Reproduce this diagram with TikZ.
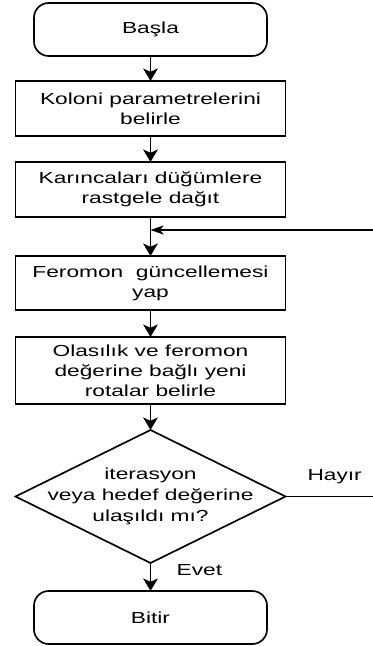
\documentclass[tikz,border=0pt]{standalone}
\usepackage{fontspec}
\setmainfont{Liberation Sans}[FakeStretch=1.42]
\usepackage{tikz}
\usetikzlibrary{arrows.meta, positioning, shapes.geometric}

\begin{document}
\begin{tikzpicture}[
    x=0.75pt, y=-0.75pt,
    base/.style={draw=black, line width=1.25pt, fill=white, align=center, outer sep=0pt,
                 font=\fontsize{12pt}{15pt}\selectfont},
    term/.style={base, rounded corners=11pt, minimum width=174.75pt, minimum height=39.75pt},
    proc/.style={base, minimum width=202.5pt, minimum height=41.25pt},
    decision/.style={base, diamond, minimum width=202.5pt, minimum height=99.75pt, inner sep=0pt},
    lbl/.style={font=\fontsize{12pt}{15pt}\selectfont, inner sep=0pt},
    arr/.style={-{Stealth[length=9.4pt, width=11pt, inset=2.5pt]}, line width=1.25pt},
    arrh/.style={-{Stealth[length=9.75pt, width=6.75pt, inset=2.5pt]}, line width=1.25pt}
]
  \useasboundingbox (0,0) rectangle (372,646);
  \node[term] (basla) at (150.5,29.5) {Başla};
  \node[proc, below=18.75pt of basla] (koloni) {Koloni parametrelerini\\belirle};
  \node[proc, below=19.5pt of koloni] (karinca) {Karıncaları düğümlere\\rastgele dağıt};
  \node[proc, below=29.25pt of karinca, minimum height=40.5pt] (feromon) {Feromon~ güncellemesi\\yap};
  \node[proc, below=20.25pt of feromon, minimum height=50.25pt] (olasilik) {Olasılık ve feromon\\değerine bağlı yeni\\rotalar belirle};
  \node[decision, below=19.5pt of olasilik,
        label={[lbl, align=center, font=\fontsize{12pt}{16pt}\selectfont]center:{iterasyon\\veya hedef değerine\\ulaşıldı mı?}}] (karar) {};
  \node[term, below=21pt of karar] (bitir) {Bitir};
  \coordinate[below=9.75pt of karinca] (birles);
  \coordinate[right=68.25pt of karar.east] (donus);
  \draw[arr] (basla) -- (koloni);
  \draw[arr] (koloni) -- (karinca);
  \draw[arr] (karinca) -- (feromon);
  \draw[arr] (feromon) -- (olasilik);
  \draw[arr] (olasilik) -- (karar);
  \draw[arr] (karar) -- node[lbl, pos=0.25, right=19pt] (evet) {Evet} (bitir);
  \draw[arrh] (karar.east) -- node[lbl, pos=0.54, above=9pt] (hayir) {Hayır} (donus) |- (birles);
\end{tikzpicture}
\end{document}
